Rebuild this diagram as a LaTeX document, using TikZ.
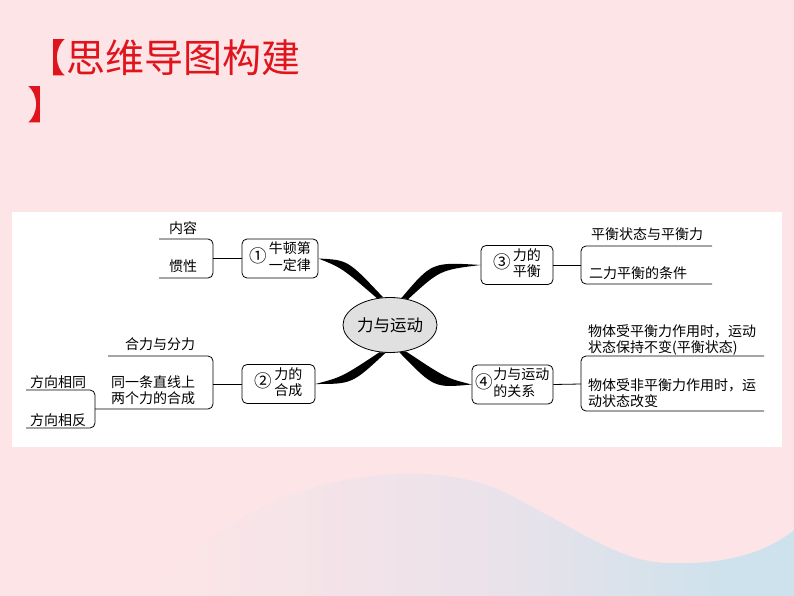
\documentclass[tikz,border=0pt]{standalone}
\usepackage{fontspec}
\setmainfont{Noto Sans CJK SC}
\usetikzlibrary{shapes.geometric}
\definecolor{bgpink}{RGB}{253,229,231}
\definecolor{wavebl}{RGB}{205,226,236}
\definecolor{wavemid}{RGB}{234,226,234}
\definecolor{titlered}{RGB}{224,20,28}
\definecolor{centgray}{RGB}{224,224,224}
\pgfdeclarehorizontalshading{waveshade}{100bp}{color(0bp)=(bgpink); color(25bp)=(bgpink); color(52bp)=(wavemid); color(70bp)=(wavebl); color(100bp)=(wavebl)}
\newcommand{\cnum}[1]{\scalebox{1.25}{#1}}
\begin{document}
\begin{tikzpicture}[x=1pt,y=-1pt,
    topic/.style={draw, rounded corners=5pt, line width=0.8pt, minimum width=#1, minimum height=39pt, inner sep=0pt, font=\fontsize{14}{16}\selectfont},
    leaf/.style={font=\fontsize{14}{16}\selectfont, inner sep=0pt, align=left},
    brace/.style={line width=0.8pt, rounded corners=5pt}]
    % 背景
    \fill[bgpink] (0,0) rectangle (794,596);
    \useasboundingbox (0,0) rectangle (794,596);
    \shade[shading=waveshade] (150,596) .. controls (250,470) and (420,455) .. (500,490) .. controls (580,530) and (620,563) .. (670,563) .. controls (730,565) and (770,550) .. (794,530) -- (794,596) -- cycle;
    \fill[white] (12,212) rectangle (782,447);

    % 标题
    \node[anchor=west, text=titlered, font=\fontsize{39}{47}\selectfont, inner sep=0pt] (title) at (27,58) {【思维导图构建};
    \node[anchor=west, text=titlered, font=\fontsize{39}{47}\selectfont, inner sep=0pt] (title2) at (27,105) {】};

    % 中心
    \node[ellipse, draw, fill=centgray, line width=0.8pt, minimum width=94pt, minimum height=55pt, inner sep=0pt, font=\fontsize{16.5}{18}\selectfont] (main) at (390,325) {力与运动};

    % 四个分支
    \node[topic=76pt] (n1) at (280,258.5) {\cnum{①}\,\begin{tabular}{@{}l@{}}牛顿第\\一定律\end{tabular}};
    \node[topic=73pt] (n2) at (278.5,384) {\cnum{②}\,\begin{tabular}{@{}l@{}}力的\\合成\end{tabular}};
    \node[topic=72pt] (n3) at (517,265) {\cnum{③}\,\begin{tabular}{@{}l@{}}力的\\平衡\end{tabular}};
    \node[topic=81pt] (n4) at (512.5,384.5) {\cnum{④}\begin{tabular}{@{}l@{}}力与运动\\的关系\end{tabular}};

    \fill (n1.east) .. controls (348,260) .. (main.104) -- (main.116) .. controls (342,268) .. (n1.east);
    \fill (n3.west) .. controls (432,262) .. (main.67) -- (main.55) .. controls (440,270) .. (n3.west);
    \fill (n2.east) .. controls (352,384) .. (main.-99) -- (main.-111) .. controls (342,377) .. (n2.east);
    \fill (n4.west) .. controls (434,388) .. (main.-71) -- (main.-59) .. controls (446,378) .. (n4.west);

    % 牛顿第一定律
    \draw[brace] (159,239) -- (213,239) -- (213,278) -- (159,278);
    \coordinate (b1) at (213,258.5);
    \draw[line width=0.8pt] (n1.west) -- (b1);
    \node[leaf] (l11) at (183,228) {内容};
    \node[leaf] (l12) at (183,266) {惯性};

    % 力的合成
    \draw[brace] (108,356) -- (213,356) -- (213,409) -- (95,409);
    \draw[brace] (26,390) -- (95,390) -- (95,428) -- (26,428);
    \coordinate (b2) at (213,384);
    \draw[line width=0.8pt] (n2.west) -- (b2);
    \node[leaf] (l21) at (160,344) {合力与分力};
    \node[leaf, align=center] (l22) at (153,390.5) {同一条直线上\\两个力的合成};
    \node[leaf] (l23) at (58,382) {方向相同};
    \node[leaf] (l24) at (58,420) {方向相反};

    % 力的平衡
    \draw[brace] (712,246) -- (581,246) -- (581,284) -- (712,284);
    \coordinate (b3) at (581,265);
    \draw[line width=0.8pt] (n3.east) -- (b3);
    \node[leaf] (l31) at (647,234) {平衡状态与平衡力};
    \node[leaf, anchor=west] (l32) at (589,273) {二力平衡的条件};

    % 力与运动的关系
    \draw[brace] (764,356) -- (581,356) -- (581,411) -- (764,411);
    \coordinate (b4) at (581,384);
    \draw[line width=0.8pt] (n4.east) -- (b4);
    \node[leaf, anchor=west] (l41) at (588,339.5) {物体受平衡力作用时，运动\\状态保持不变(平衡状态)};
    \node[leaf, anchor=west] (l42) at (588,393) {物体受非平衡力作用时，运\\动状态改变};
\end{tikzpicture}
\end{document}
